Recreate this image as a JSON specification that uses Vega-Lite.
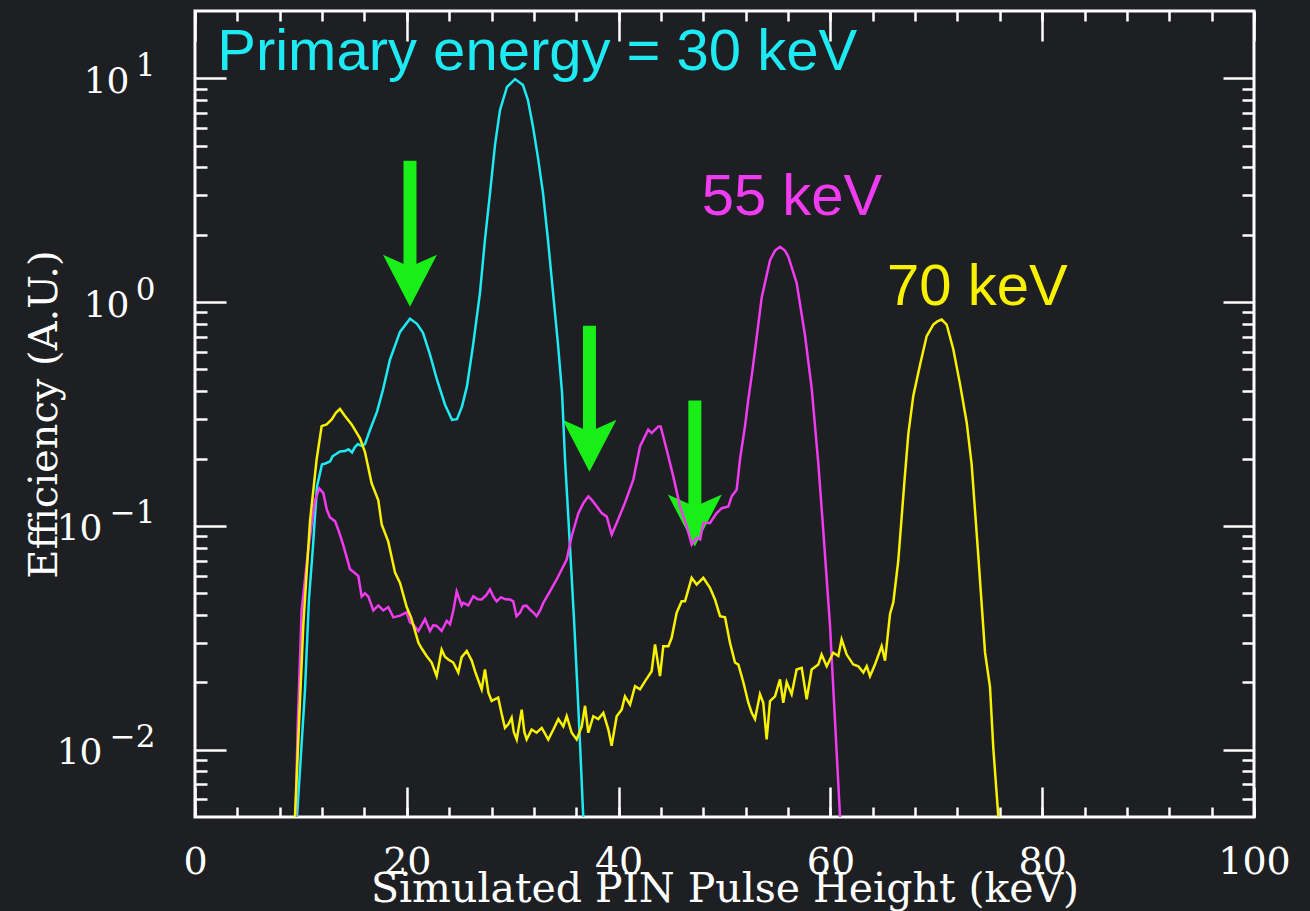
{
  "$schema": "https://vega.github.io/schema/vega-lite/v6.json",
  "width": 1059,
  "height": 806,
  "autosize": {"type": "none"},
  "padding": {"left": 195, "top": 11, "right": 56, "bottom": 94},
  "background": "#1d1f22",
  "view": {"stroke": "#ffffff", "strokeWidth": 3},
  "config": {
    "axis": {"domain": false, "grid": false, "tickColor": "#ffffff", "tickWidth": 2.5, "labelColor": "#ffffff", "titleColor": "#ffffff", "labelFont": "DejaVu Serif", "titleFont": "DejaVu Serif", "titleFontWeight": "normal", "labelFlush": false, "labelOverlap": false, "labelBound": false}
  },
  "datasets": {
    "curves": [
      {"series": "30 keV", "x": 9.4, "y": 0.003},
      {"series": "30 keV", "x": 9.63, "y": 0.005},
      {"series": "30 keV", "x": 9.92, "y": 0.0082},
      {"series": "30 keV", "x": 10.39, "y": 0.0186},
      {"series": "30 keV", "x": 10.76, "y": 0.047},
      {"series": "30 keV", "x": 11.14, "y": 0.081},
      {"series": "30 keV", "x": 11.52, "y": 0.15},
      {"series": "30 keV", "x": 11.99, "y": 0.188},
      {"series": "30 keV", "x": 12.3, "y": 0.19},
      {"series": "30 keV", "x": 12.75, "y": 0.194},
      {"series": "30 keV", "x": 13.0, "y": 0.205},
      {"series": "30 keV", "x": 13.22, "y": 0.208},
      {"series": "30 keV", "x": 13.69, "y": 0.215},
      {"series": "30 keV", "x": 14.16, "y": 0.216},
      {"series": "30 keV", "x": 14.5, "y": 0.22},
      {"series": "30 keV", "x": 14.83, "y": 0.213},
      {"series": "30 keV", "x": 15.1, "y": 0.225},
      {"series": "30 keV", "x": 15.39, "y": 0.232},
      {"series": "30 keV", "x": 15.7, "y": 0.228},
      {"series": "30 keV", "x": 16.05, "y": 0.232},
      {"series": "30 keV", "x": 16.53, "y": 0.269},
      {"series": "30 keV", "x": 17.19, "y": 0.324},
      {"series": "30 keV", "x": 17.75, "y": 0.406},
      {"series": "30 keV", "x": 18.41, "y": 0.553},
      {"series": "30 keV", "x": 19.36, "y": 0.736},
      {"series": "30 keV", "x": 20.3, "y": 0.842},
      {"series": "30 keV", "x": 20.96, "y": 0.8},
      {"series": "30 keV", "x": 21.53, "y": 0.729},
      {"series": "30 keV", "x": 22.19, "y": 0.582},
      {"series": "30 keV", "x": 22.85, "y": 0.45},
      {"series": "30 keV", "x": 23.61, "y": 0.348},
      {"series": "30 keV", "x": 24.27, "y": 0.298},
      {"series": "30 keV", "x": 24.74, "y": 0.3},
      {"series": "30 keV", "x": 25.21, "y": 0.341},
      {"series": "30 keV", "x": 25.68, "y": 0.42},
      {"series": "30 keV", "x": 26.25, "y": 0.638},
      {"series": "30 keV", "x": 26.91, "y": 1.1},
      {"series": "30 keV", "x": 27.38, "y": 1.9},
      {"series": "30 keV", "x": 27.86, "y": 3.08},
      {"series": "30 keV", "x": 28.33, "y": 5.04},
      {"series": "30 keV", "x": 28.8, "y": 7.22},
      {"series": "30 keV", "x": 29.46, "y": 9.15},
      {"series": "30 keV", "x": 30.22, "y": 9.93},
      {"series": "30 keV", "x": 30.97, "y": 9.33},
      {"series": "30 keV", "x": 31.44, "y": 8.0},
      {"series": "30 keV", "x": 31.92, "y": 6.06},
      {"series": "30 keV", "x": 32.39, "y": 4.41},
      {"series": "30 keV", "x": 32.86, "y": 3.08},
      {"series": "30 keV", "x": 33.33, "y": 1.9},
      {"series": "30 keV", "x": 33.81, "y": 1.1},
      {"series": "30 keV", "x": 34.28, "y": 0.645},
      {"series": "30 keV", "x": 34.66, "y": 0.394},
      {"series": "30 keV", "x": 34.94, "y": 0.198},
      {"series": "30 keV", "x": 35.41, "y": 0.0808},
      {"series": "30 keV", "x": 35.79, "y": 0.0382},
      {"series": "30 keV", "x": 36.07, "y": 0.0206},
      {"series": "30 keV", "x": 36.36, "y": 0.0106},
      {"series": "30 keV", "x": 36.64, "y": 0.00526},
      {"series": "30 keV", "x": 36.8, "y": 0.004},

      {"series": "55 keV", "x": 9.45, "y": 0.004},
      {"series": "55 keV", "x": 9.7, "y": 0.013},
      {"series": "55 keV", "x": 10.07, "y": 0.042},
      {"series": "55 keV", "x": 10.7, "y": 0.079},
      {"series": "55 keV", "x": 11.33, "y": 0.13},
      {"series": "55 keV", "x": 11.74, "y": 0.147},
      {"series": "55 keV", "x": 12.12, "y": 0.14},
      {"series": "55 keV", "x": 12.45, "y": 0.118},
      {"series": "55 keV", "x": 12.75, "y": 0.109},
      {"series": "55 keV", "x": 13.22, "y": 0.105},
      {"series": "55 keV", "x": 13.6, "y": 0.094},
      {"series": "55 keV", "x": 14.0, "y": 0.082},
      {"series": "55 keV", "x": 14.3, "y": 0.073},
      {"series": "55 keV", "x": 14.64, "y": 0.064},
      {"series": "55 keV", "x": 15.0, "y": 0.062},
      {"series": "55 keV", "x": 15.42, "y": 0.0597},
      {"series": "55 keV", "x": 15.74, "y": 0.0483},
      {"series": "55 keV", "x": 16.05, "y": 0.05},
      {"series": "55 keV", "x": 16.37, "y": 0.0483},
      {"series": "55 keV", "x": 16.84, "y": 0.0419},
      {"series": "55 keV", "x": 17.31, "y": 0.0441},
      {"series": "55 keV", "x": 17.78, "y": 0.0419},
      {"series": "55 keV", "x": 18.25, "y": 0.0434},
      {"series": "55 keV", "x": 18.73, "y": 0.039},
      {"series": "55 keV", "x": 19.36, "y": 0.0397},
      {"series": "55 keV", "x": 19.99, "y": 0.0411},
      {"series": "55 keV", "x": 20.3, "y": 0.037},
      {"series": "55 keV", "x": 20.61, "y": 0.0363},
      {"series": "55 keV", "x": 21.09, "y": 0.0339},
      {"series": "55 keV", "x": 21.4, "y": 0.036},
      {"series": "55 keV", "x": 21.72, "y": 0.0383},
      {"series": "55 keV", "x": 22.19, "y": 0.0339},
      {"series": "55 keV", "x": 22.5, "y": 0.036},
      {"series": "55 keV", "x": 22.82, "y": 0.0357},
      {"series": "55 keV", "x": 23.29, "y": 0.0339},
      {"series": "55 keV", "x": 23.77, "y": 0.0376},
      {"series": "55 keV", "x": 24.08, "y": 0.0363},
      {"series": "55 keV", "x": 24.4, "y": 0.042},
      {"series": "55 keV", "x": 24.71, "y": 0.0509},
      {"series": "55 keV", "x": 25.18, "y": 0.0441},
      {"series": "55 keV", "x": 25.34, "y": 0.0453},
      {"series": "55 keV", "x": 25.81, "y": 0.0441},
      {"series": "55 keV", "x": 26.28, "y": 0.0485},
      {"series": "55 keV", "x": 26.7, "y": 0.047},
      {"series": "55 keV", "x": 27.07, "y": 0.0469},
      {"series": "55 keV", "x": 27.5, "y": 0.049},
      {"series": "55 keV", "x": 27.85, "y": 0.052},
      {"series": "55 keV", "x": 28.2, "y": 0.048},
      {"series": "55 keV", "x": 28.48, "y": 0.046},
      {"series": "55 keV", "x": 28.9, "y": 0.048},
      {"series": "55 keV", "x": 29.3, "y": 0.047},
      {"series": "55 keV", "x": 29.73, "y": 0.0469},
      {"series": "55 keV", "x": 30.05, "y": 0.046},
      {"series": "55 keV", "x": 30.36, "y": 0.0395},
      {"series": "55 keV", "x": 30.7, "y": 0.041},
      {"series": "55 keV", "x": 30.99, "y": 0.0438},
      {"series": "55 keV", "x": 31.3, "y": 0.044},
      {"series": "55 keV", "x": 31.63, "y": 0.0423},
      {"series": "55 keV", "x": 31.95, "y": 0.041},
      {"series": "55 keV", "x": 32.26, "y": 0.0395},
      {"series": "55 keV", "x": 32.6, "y": 0.042},
      {"series": "55 keV", "x": 32.89, "y": 0.0453},
      {"series": "55 keV", "x": 33.52, "y": 0.051},
      {"series": "55 keV", "x": 34.15, "y": 0.0576},
      {"series": "55 keV", "x": 34.78, "y": 0.066},
      {"series": "55 keV", "x": 35.1, "y": 0.0707},
      {"series": "55 keV", "x": 35.57, "y": 0.0899},
      {"series": "55 keV", "x": 36.2, "y": 0.114},
      {"series": "55 keV", "x": 36.7, "y": 0.127},
      {"series": "55 keV", "x": 37.14, "y": 0.1355},
      {"series": "55 keV", "x": 37.5, "y": 0.13},
      {"series": "55 keV", "x": 37.93, "y": 0.1224},
      {"series": "55 keV", "x": 38.4, "y": 0.114},
      {"series": "55 keV", "x": 38.88, "y": 0.11},
      {"series": "55 keV", "x": 39.35, "y": 0.0915},
      {"series": "55 keV", "x": 39.82, "y": 0.1031},
      {"series": "55 keV", "x": 40.6, "y": 0.1267},
      {"series": "55 keV", "x": 41.39, "y": 0.161},
      {"series": "55 keV", "x": 42.02, "y": 0.2266},
      {"series": "55 keV", "x": 42.8, "y": 0.269},
      {"series": "55 keV", "x": 43.12, "y": 0.26},
      {"series": "55 keV", "x": 43.75, "y": 0.278},
      {"series": "55 keV", "x": 43.97, "y": 0.278},
      {"series": "55 keV", "x": 44.54, "y": 0.219},
      {"series": "55 keV", "x": 45.17, "y": 0.166},
      {"series": "55 keV", "x": 45.8, "y": 0.122},
      {"series": "55 keV", "x": 46.43, "y": 0.0996},
      {"series": "55 keV", "x": 46.9, "y": 0.0825},
      {"series": "55 keV", "x": 47.37, "y": 0.0884},
      {"series": "55 keV", "x": 47.7, "y": 0.087},
      {"series": "55 keV", "x": 48.0, "y": 0.1031},
      {"series": "55 keV", "x": 48.63, "y": 0.1031},
      {"series": "55 keV", "x": 49.26, "y": 0.114},
      {"series": "55 keV", "x": 49.74, "y": 0.12},
      {"series": "55 keV", "x": 50.36, "y": 0.122},
      {"series": "55 keV", "x": 50.68, "y": 0.1355},
      {"series": "55 keV", "x": 51.15, "y": 0.145},
      {"series": "55 keV", "x": 51.46, "y": 0.198},
      {"series": "55 keV", "x": 51.94, "y": 0.28},
      {"series": "55 keV", "x": 52.25, "y": 0.368},
      {"series": "55 keV", "x": 52.6, "y": 0.48},
      {"series": "55 keV", "x": 52.88, "y": 0.609},
      {"series": "55 keV", "x": 53.51, "y": 1.047},
      {"series": "55 keV", "x": 54.3, "y": 1.54},
      {"series": "55 keV", "x": 54.77, "y": 1.7},
      {"series": "55 keV", "x": 55.24, "y": 1.766},
      {"series": "55 keV", "x": 55.71, "y": 1.7},
      {"series": "55 keV", "x": 56.02, "y": 1.6},
      {"series": "55 keV", "x": 56.81, "y": 1.22},
      {"series": "55 keV", "x": 57.6, "y": 0.711},
      {"series": "55 keV", "x": 58.23, "y": 0.413},
      {"series": "55 keV", "x": 58.86, "y": 0.19},
      {"series": "55 keV", "x": 59.33, "y": 0.0948},
      {"series": "55 keV", "x": 59.96, "y": 0.036},
      {"series": "55 keV", "x": 60.43, "y": 0.0136},
      {"series": "55 keV", "x": 60.91, "y": 0.005},
      {"series": "55 keV", "x": 61.0, "y": 0.004},

      {"series": "70 keV", "x": 9.3, "y": 0.003},
      {"series": "70 keV", "x": 9.44, "y": 0.005},
      {"series": "70 keV", "x": 10.23, "y": 0.0363},
      {"series": "70 keV", "x": 10.86, "y": 0.105},
      {"series": "70 keV", "x": 11.49, "y": 0.199},
      {"series": "70 keV", "x": 11.96, "y": 0.279},
      {"series": "70 keV", "x": 12.43, "y": 0.284},
      {"series": "70 keV", "x": 12.91, "y": 0.299},
      {"series": "70 keV", "x": 13.3, "y": 0.32},
      {"series": "70 keV", "x": 13.69, "y": 0.333},
      {"series": "70 keV", "x": 14.16, "y": 0.31},
      {"series": "70 keV", "x": 14.79, "y": 0.284},
      {"series": "70 keV", "x": 15.58, "y": 0.246},
      {"series": "70 keV", "x": 16.05, "y": 0.2137},
      {"series": "70 keV", "x": 16.68, "y": 0.155},
      {"series": "70 keV", "x": 17.31, "y": 0.13},
      {"series": "70 keV", "x": 17.63, "y": 0.1016},
      {"series": "70 keV", "x": 18.25, "y": 0.085},
      {"series": "70 keV", "x": 18.89, "y": 0.0618},
      {"series": "70 keV", "x": 19.36, "y": 0.0556},
      {"series": "70 keV", "x": 19.99, "y": 0.0434},
      {"series": "70 keV", "x": 20.4, "y": 0.039},
      {"series": "70 keV", "x": 20.77, "y": 0.034},
      {"series": "70 keV", "x": 21.1, "y": 0.03},
      {"series": "70 keV", "x": 21.41, "y": 0.0283},
      {"series": "70 keV", "x": 21.87, "y": 0.0262},
      {"series": "70 keV", "x": 22.35, "y": 0.0245},
      {"series": "70 keV", "x": 22.82, "y": 0.0213},
      {"series": "70 keV", "x": 23.29, "y": 0.028},
      {"series": "70 keV", "x": 23.6, "y": 0.026},
      {"series": "70 keV", "x": 23.92, "y": 0.0253},
      {"series": "70 keV", "x": 24.39, "y": 0.0245},
      {"series": "70 keV", "x": 24.86, "y": 0.0221},
      {"series": "70 keV", "x": 25.18, "y": 0.0259},
      {"series": "70 keV", "x": 25.66, "y": 0.0276},
      {"series": "70 keV", "x": 26.13, "y": 0.025},
      {"series": "70 keV", "x": 26.5, "y": 0.022},
      {"series": "70 keV", "x": 27.07, "y": 0.0186},
      {"series": "70 keV", "x": 27.38, "y": 0.0228},
      {"series": "70 keV", "x": 27.7, "y": 0.018},
      {"series": "70 keV", "x": 28.01, "y": 0.0165},
      {"series": "70 keV", "x": 28.63, "y": 0.0171},
      {"series": "70 keV", "x": 28.95, "y": 0.0145},
      {"series": "70 keV", "x": 29.27, "y": 0.0125},
      {"series": "70 keV", "x": 29.6, "y": 0.013},
      {"series": "70 keV", "x": 29.9, "y": 0.0139},
      {"series": "70 keV", "x": 30.1, "y": 0.012},
      {"series": "70 keV", "x": 30.38, "y": 0.0111},
      {"series": "70 keV", "x": 30.85, "y": 0.0151},
      {"series": "70 keV", "x": 31.1, "y": 0.012},
      {"series": "70 keV", "x": 31.32, "y": 0.0111},
      {"series": "70 keV", "x": 31.79, "y": 0.0123},
      {"series": "70 keV", "x": 32.26, "y": 0.0119},
      {"series": "70 keV", "x": 32.74, "y": 0.0125},
      {"series": "70 keV", "x": 33.05, "y": 0.0118},
      {"series": "70 keV", "x": 33.36, "y": 0.0111},
      {"series": "70 keV", "x": 33.84, "y": 0.0123},
      {"series": "70 keV", "x": 34.31, "y": 0.0137},
      {"series": "70 keV", "x": 34.78, "y": 0.0127},
      {"series": "70 keV", "x": 35.1, "y": 0.0141},
      {"series": "70 keV", "x": 35.57, "y": 0.0119},
      {"series": "70 keV", "x": 36.04, "y": 0.0111},
      {"series": "70 keV", "x": 36.52, "y": 0.0127},
      {"series": "70 keV", "x": 36.83, "y": 0.0157},
      {"series": "70 keV", "x": 37.14, "y": 0.0119},
      {"series": "70 keV", "x": 37.61, "y": 0.0141},
      {"series": "70 keV", "x": 38.08, "y": 0.0137},
      {"series": "70 keV", "x": 38.56, "y": 0.0146},
      {"series": "70 keV", "x": 39.03, "y": 0.0123},
      {"series": "70 keV", "x": 39.34, "y": 0.0104},
      {"series": "70 keV", "x": 39.82, "y": 0.0141},
      {"series": "70 keV", "x": 40.29, "y": 0.0151},
      {"series": "70 keV", "x": 40.6, "y": 0.0173},
      {"series": "70 keV", "x": 41.08, "y": 0.0159},
      {"series": "70 keV", "x": 41.55, "y": 0.0192},
      {"series": "70 keV", "x": 42.02, "y": 0.0186},
      {"series": "70 keV", "x": 42.49, "y": 0.0202},
      {"series": "70 keV", "x": 43.12, "y": 0.0224},
      {"series": "70 keV", "x": 43.44, "y": 0.0295},
      {"series": "70 keV", "x": 43.91, "y": 0.0213},
      {"series": "70 keV", "x": 44.22, "y": 0.029},
      {"series": "70 keV", "x": 44.7, "y": 0.029},
      {"series": "70 keV", "x": 45.01, "y": 0.0316},
      {"series": "70 keV", "x": 45.48, "y": 0.0409},
      {"series": "70 keV", "x": 45.95, "y": 0.046},
      {"series": "70 keV", "x": 46.27, "y": 0.046},
      {"series": "70 keV", "x": 46.9, "y": 0.0586},
      {"series": "70 keV", "x": 47.37, "y": 0.0547},
      {"series": "70 keV", "x": 48.0, "y": 0.0586},
      {"series": "70 keV", "x": 48.63, "y": 0.0529},
      {"series": "70 keV", "x": 49.1, "y": 0.0469},
      {"series": "70 keV", "x": 49.58, "y": 0.0395},
      {"series": "70 keV", "x": 50.05, "y": 0.039},
      {"series": "70 keV", "x": 50.52, "y": 0.03},
      {"series": "70 keV", "x": 50.99, "y": 0.0245},
      {"series": "70 keV", "x": 51.31, "y": 0.024},
      {"series": "70 keV", "x": 51.78, "y": 0.02},
      {"series": "70 keV", "x": 52.25, "y": 0.0162},
      {"series": "70 keV", "x": 52.57, "y": 0.0146},
      {"series": "70 keV", "x": 52.88, "y": 0.0137},
      {"series": "70 keV", "x": 53.35, "y": 0.0177},
      {"series": "70 keV", "x": 53.66, "y": 0.0162},
      {"series": "70 keV", "x": 53.98, "y": 0.0111},
      {"series": "70 keV", "x": 54.3, "y": 0.0165},
      {"series": "70 keV", "x": 54.77, "y": 0.0173},
      {"series": "70 keV", "x": 55.24, "y": 0.0206},
      {"series": "70 keV", "x": 55.55, "y": 0.0162},
      {"series": "70 keV", "x": 55.87, "y": 0.02},
      {"series": "70 keV", "x": 56.34, "y": 0.0177},
      {"series": "70 keV", "x": 56.81, "y": 0.0228},
      {"series": "70 keV", "x": 57.29, "y": 0.0232},
      {"series": "70 keV", "x": 57.76, "y": 0.0168},
      {"series": "70 keV", "x": 58.23, "y": 0.0228},
      {"series": "70 keV", "x": 58.86, "y": 0.024},
      {"series": "70 keV", "x": 59.17, "y": 0.0266},
      {"series": "70 keV", "x": 59.65, "y": 0.0236},
      {"series": "70 keV", "x": 60.27, "y": 0.0271},
      {"series": "70 keV", "x": 60.75, "y": 0.0262},
      {"series": "70 keV", "x": 61.06, "y": 0.0311},
      {"series": "70 keV", "x": 61.54, "y": 0.0266},
      {"series": "70 keV", "x": 62.16, "y": 0.024},
      {"series": "70 keV", "x": 62.64, "y": 0.0236},
      {"series": "70 keV", "x": 63.11, "y": 0.0221},
      {"series": "70 keV", "x": 63.43, "y": 0.0236},
      {"series": "70 keV", "x": 63.74, "y": 0.0213},
      {"series": "70 keV", "x": 64.21, "y": 0.024},
      {"series": "70 keV", "x": 64.84, "y": 0.029},
      {"series": "70 keV", "x": 65.16, "y": 0.025},
      {"series": "70 keV", "x": 65.63, "y": 0.0404},
      {"series": "70 keV", "x": 65.94, "y": 0.0455},
      {"series": "70 keV", "x": 66.41, "y": 0.07},
      {"series": "70 keV", "x": 67.0, "y": 0.16},
      {"series": "70 keV", "x": 67.36, "y": 0.258},
      {"series": "70 keV", "x": 67.83, "y": 0.382},
      {"series": "70 keV", "x": 68.46, "y": 0.524},
      {"series": "70 keV", "x": 69.09, "y": 0.705},
      {"series": "70 keV", "x": 69.72, "y": 0.794},
      {"series": "70 keV", "x": 70.1, "y": 0.82},
      {"series": "70 keV", "x": 70.51, "y": 0.836},
      {"series": "70 keV", "x": 70.98, "y": 0.794},
      {"series": "70 keV", "x": 71.61, "y": 0.614},
      {"series": "70 keV", "x": 72.24, "y": 0.43},
      {"series": "70 keV", "x": 72.87, "y": 0.29},
      {"series": "70 keV", "x": 73.34, "y": 0.188},
      {"series": "70 keV", "x": 73.97, "y": 0.073},
      {"series": "70 keV", "x": 74.6, "y": 0.0272},
      {"series": "70 keV", "x": 75.07, "y": 0.0191},
      {"series": "70 keV", "x": 75.38, "y": 0.0102},
      {"series": "70 keV", "x": 75.86, "y": 0.005},
      {"series": "70 keV", "x": 76.0, "y": 0.004}
    ],
    "arrows": [
      {"x": 20.3, "top": 4.28, "bottom": 1.365, "head": 1.258},
      {"x": 37.25, "top": 0.784, "bottom": 0.2502, "head": 0.2306},
      {"x": 47.2, "top": 0.3637, "bottom": 0.1158, "head": 0.1067}
    ],
    "notes": [
      {"label": "Primary energy = 30 keV", "series": "30 keV", "x": 2.1, "y": 10.89, "grp": "a"},
      {"label": "55 keV", "series": "55 keV", "x": 47.85, "y": 2.45, "grp": "b"},
      {"label": "70 keV", "series": "70 keV", "x": 65.35, "y": 0.973, "grp": "c"}
    ]
  },
  "layer": [
    {
      "data": {"name": "arrows"},
      "mark": {"type": "rule", "color": "#19ee19", "strokeWidth": 13, "strokeCap": "butt"},
      "encoding": {
        "x": {"field": "x", "type": "quantitative", "scale": {"type": "linear", "domain": [0, 100], "nice": false, "zero": false},
              "axis": {"orient": "bottom", "values": [0, 20, 40, 60, 80, 100], "tickSize": -30, "labels": false, "title": null}},
        "y": {"field": "top", "type": "quantitative", "scale": {"type": "log", "domain": [0.005, 20], "nice": false},
              "axis": {"orient": "left", "values": [0.01, 0.1, 1, 10], "tickSize": -31, "labels": false, "title": null}},
        "y2": {"field": "bottom"}
      }
    },
    {
      "data": {"name": "arrows"},
      "mark": {"type": "point", "shape": "M0,1L-1,-0.926L0,-0.48L1,-0.926Z", "size": 2916, "filled": true, "opacity": 1, "color": "#19ee19", "strokeWidth": 0},
      "encoding": {
        "x": {"field": "x", "type": "quantitative", "scale": {"type": "linear", "domain": [0, 100], "nice": false, "zero": false},
              "axis": {"orient": "bottom", "values": [0, 4, 8, 12, 16, 20, 24, 28, 32, 36, 40, 44, 48, 52, 56, 60, 64, 68, 72, 76, 80, 84, 88, 92, 96, 100], "tickSize": -10, "labels": false, "title": null}},
        "y": {"field": "head", "type": "quantitative", "scale": {"type": "log", "domain": [0.005, 20], "nice": false},
              "axis": {"orient": "left", "values": [0.006, 0.007, 0.008, 0.009, 0.02, 0.03, 0.04, 0.05, 0.06, 0.07, 0.08, 0.09, 0.2, 0.3, 0.4, 0.5, 0.6, 0.7, 0.8, 0.9, 2, 3, 4, 5, 6, 7, 8, 9], "tickSize": -12, "labels": false, "title": null}}
      }
    },
    {
      "data": {"name": "curves"},
      "mark": {"type": "line", "strokeWidth": 2.5, "clip": true},
      "encoding": {
        "x": {"field": "x", "type": "quantitative", "scale": {"type": "linear", "domain": [0, 100], "nice": false, "zero": false},
              "axis": {"orient": "bottom", "values": [0, 20, 40, 60, 80, 100], "ticks": false, "tickSize": 0, "labelFontSize": 38, "labelBaseline": "alphabetic", "labelPadding": 56,
                       "title": "Simulated PIN Pulse Height (keV)", "titleFontSize": 41, "titleBaseline": "alphabetic", "titleAlign": "center", "titleX": 529.5, "titleY": 84}},
        "y": {"field": "y", "type": "quantitative", "scale": {"type": "log", "domain": [0.005, 20], "nice": false},
              "axis": {"orient": "left", "values": [0.01, 0.1, 1, 10], "ticks": false, "tickSize": 0, "labelFontSize": 36, "labelAlign": "right", "labelBaseline": "middle",
                       "labelPadding": {"condition": {"test": "datum.value < 0.5", "value": 93}, "value": 66}, "labelOffset": 3,
                       "labelExpr": "'10'",
                       "title": "Efficiency (A.U.)", "titleFontSize": 40, "titleAngle": -90, "titleBaseline": "alphabetic", "titleAlign": "center", "titleX": -139, "titleY": 403}},
        "color": {"field": "series", "type": "nominal", "scale": {"domain": ["30 keV", "55 keV", "70 keV"], "range": ["#1deaf2", "#f03cf0", "#f8f200"]}, "legend": null}
      }
    },
    {
      "data": {"name": "notes"},
      "transform": [{"filter": "datum.grp == 'a'"}],
      "mark": {"type": "text", "font": "Liberation Sans", "fontSize": 58, "align": "left", "baseline": "alphabetic"},
      "encoding": {
        "x": {"field": "x", "type": "quantitative", "scale": {"type": "linear", "domain": [0, 100], "nice": false, "zero": false},
              "axis": {"orient": "top", "values": [0, 20, 40, 60, 80, 100], "tickSize": -30, "labels": false, "title": null}},
        "y": {"field": "y", "type": "quantitative", "scale": {"type": "log", "domain": [0.005, 20], "nice": false},
              "axis": {"orient": "right", "values": [0.01, 0.1, 1, 10], "tickSize": -31, "labels": false, "title": null}},
        "text": {"field": "label"},
        "color": {"field": "series", "type": "nominal", "scale": {"domain": ["30 keV", "55 keV", "70 keV"], "range": ["#1deaf2", "#f03cf0", "#f8f200"]}, "legend": null}
      }
    },
    {
      "data": {"name": "notes"},
      "transform": [{"filter": "datum.grp == 'b'"}],
      "mark": {"type": "text", "font": "Liberation Sans", "fontSize": 58, "align": "left", "baseline": "alphabetic"},
      "encoding": {
        "x": {"field": "x", "type": "quantitative", "scale": {"type": "linear", "domain": [0, 100], "nice": false, "zero": false},
              "axis": {"orient": "top", "values": [0, 4, 8, 12, 16, 20, 24, 28, 32, 36, 40, 44, 48, 52, 56, 60, 64, 68, 72, 76, 80, 84, 88, 92, 96, 100], "tickSize": -10, "labels": false, "title": null}},
        "y": {"field": "y", "type": "quantitative", "scale": {"type": "log", "domain": [0.005, 20], "nice": false},
              "axis": {"orient": "right", "values": [0.006, 0.007, 0.008, 0.009, 0.02, 0.03, 0.04, 0.05, 0.06, 0.07, 0.08, 0.09, 0.2, 0.3, 0.4, 0.5, 0.6, 0.7, 0.8, 0.9, 2, 3, 4, 5, 6, 7, 8, 9], "tickSize": -12, "labels": false, "title": null}},
        "text": {"field": "label"},
        "color": {"field": "series", "type": "nominal", "scale": {"domain": ["30 keV", "55 keV", "70 keV"], "range": ["#1deaf2", "#f03cf0", "#f8f200"]}, "legend": null}
      }
    },
    {
      "data": {"name": "notes"},
      "transform": [{"filter": "datum.grp == 'c'"}],
      "mark": {"type": "text", "font": "Liberation Sans", "fontSize": 58, "align": "left", "baseline": "alphabetic"},
      "encoding": {
        "x": {"field": "x", "type": "quantitative", "scale": {"type": "linear", "domain": [0, 100], "nice": false, "zero": false}, "axis": null},
        "y": {"field": "y", "type": "quantitative", "scale": {"type": "log", "domain": [0.005, 20], "nice": false},
              "axis": {"orient": "left", "values": [0.01, 0.1, 1, 10], "ticks": false, "tickSize": 0, "labelFontSize": 31, "labelAlign": "right", "labelBaseline": "middle", "labelPadding": 40, "labelOffset": -12,
                       "labelExpr": "datum.value >= 5 ? '1' : datum.value >= 0.5 ? '0' : datum.value >= 0.05 ? '−1' : '−2'", "title": null}},
        "text": {"field": "label"},
        "color": {"field": "series", "type": "nominal", "scale": {"domain": ["30 keV", "55 keV", "70 keV"], "range": ["#1deaf2", "#f03cf0", "#f8f200"]}, "legend": null}
      }
    }
  ],
  "resolve": {"scale": {"x": "shared", "y": "shared", "color": "shared"}, "axis": {"x": "independent", "y": "independent"}}
}
